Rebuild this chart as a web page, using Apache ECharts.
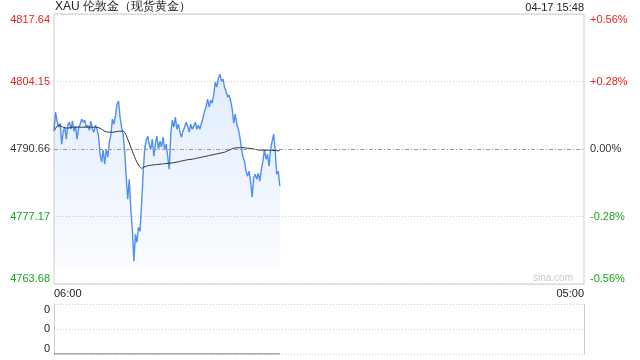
<!DOCTYPE html>
<html><head><meta charset="utf-8">
<script src="https://cdn.jsdelivr.net/npm/echarts@6/dist/echarts.min.js"></script>
<style>html,body{margin:0;padding:0;background:#fff}#c{width:640px;height:360px}</style>
</head><body><div id="c"></div>
<script>
const titleText = 'XAU 伦敦金（现货黄金）';
const stampText = '04-17 15:48';
const watermark = 'sina.com';
const prevClose = 4790.66;
const priceTicks = [4763.68, 4777.17, 4790.66, 4804.15, 4817.64];
const pctTicks = ['-0.56%', '-0.28%', '0.00%', '+0.28%', '+0.56%'];
const timeLabels = ['06:00', '05:00'];
const sessionMinutes = 1380;
const priceStepMin = 4;
const prices = [
4794.42,4798.02,4796.22,4795.02,4795.82,4791.62,4794.22,4795.02,4792.62,4795.42,
4796.02,4794.62,4796.22,4794.22,4795.22,4792.62,4794.82,4795.62,4796.62,4796.02,
4796.42,4795.02,4795.42,4794.42,4796.22,4794.62,4794.02,4795.42,4794.62,4793.22,
4789.62,4788.02,4790.42,4787.62,4790.62,4789.02,4792.02,4793.42,4796.62,4795.62,
4797.22,4799.62,4800.22,4797.02,4795.02,4793.62,4790.22,4785.02,4780.62,4784.62,
4778.62,4774.62,4768.22,4773.62,4772.02,4775.02,4774.22,4779.62,4785.62,4790.62,
4792.42,4793.22,4791.62,4790.62,4792.62,4789.22,4791.62,4793.22,4790.62,4792.22,
4791.02,4793.02,4790.62,4791.62,4789.22,4786.62,4793.62,4796.42,4795.02,4797.02,
4794.62,4795.62,4794.02,4793.02,4794.22,4795.02,4796.02,4795.22,4794.02,4795.62,
4794.62,4795.22,4796.02,4794.62,4795.42,4794.62,4795.82,4796.82,4798.22,4799.02,
4800.62,4799.02,4800.42,4799.82,4801.62,4804.02,4803.02,4804.82,4805.62,4804.22,
4804.62,4803.02,4802.22,4801.02,4801.42,4800.22,4798.62,4795.82,4797.62,4795.62,
4794.62,4793.02,4790.82,4789.02,4788.22,4786.22,4785.22,4786.22,4784.02,4781.02,
4785.02,4785.62,4784.62,4785.82,4784.22,4786.62,4788.22,4790.62,4788.62,4789.62,
4787.22,4790.62,4792.22,4793.62,4790.22,4785.62,4786.22,4783.22
];
const avgStepMin = 12;
const avgPrices = [
4794.22,4795.42,4795.02,4794.82,4795.02,4795.02,4795.02,4795.02,4795.02,4795.02,
4794.82,4794.22,4794.02,4794.02,4794.22,4794.22,4792.62,4790.22,4788.02,4786.82,
4787.22,4787.42,4787.52,4787.62,4787.72,4787.82,4787.92,4788.12,4788.32,4788.52,
4788.62,4788.82,4789.02,4789.22,4789.42,4789.62,4789.82,4790.02,4790.42,4790.82,
4790.92,4790.92,4790.82,4790.72,4790.52,4790.42,4790.42,4790.42,4790.32,4790.32
];
const volStepMin = 12;
const volumes = [
0,0,0,0,0,0,0,0,0,0, 0,0,0,0,0,0,0,0,0,0, 0,0,0,0,0,0,0,0,0,0,
0,0,0,0,0,0,0,0,0,0, 0,0,0,0,0,0,0,0,0,0
];
const volTicks = ['0', '0', '0'];

const BASE = priceTicks[0];
const STEP = priceTicks[1] - priceTicks[0];
const TOP = STEP * (priceTicks.length - 1);
const FONT = 'Arial, "Liberation Sans", "Noto Sans CJK SC", sans-serif';
const RED = '#f02020', GREEN = '#1aa51a', DARK = '#333';
const idxOf = v => Math.round(Number(v) / STEP);
const colorOf = v => { const i = idxOf(v); return i > 2 ? RED : (i < 2 ? GREEN : DARK); };

const priceData = prices.map((p, i) => [i * priceStepMin, +(p - BASE).toFixed(2)]);
const avgData = avgPrices.map((p, i) => [Math.min(i * avgStepMin, (prices.length - 1) * priceStepMin), +(p - BASE).toFixed(2)]);
const volData = volumes.map((v, i) => [Math.min(i * volStepMin, (prices.length - 1) * priceStepMin), v]);

const chart = echarts.init(document.getElementById('c'), null, {renderer: 'canvas'});
chart.setOption({
  animation: false,
  textStyle: {fontFamily: FONT},
  grid: [
    {left: 54, right: 56, top: 14, bottom: 76, show: true, borderColor: '#ccc', borderWidth: 1, backgroundColor: 'transparent'},
    {left: 54, right: 56, top: 304, height: 50, show: false}
  ],
  xAxis: [
    {type: 'value', gridIndex: 0, min: 0, max: sessionMinutes, interval: sessionMinutes,
     axisLine: {show: false}, axisTick: {show: false}, splitLine: {show: false},
     axisLabel: {show: true, margin: 4, fontSize: 11, color: '#222', fontFamily: FONT,
       alignMinLabel: 'left', alignMaxLabel: 'right',
       formatter: v => (Number(v) === 0 ? timeLabels[0] : timeLabels[1])}},
    {type: 'value', gridIndex: 1, min: 0, max: sessionMinutes, show: false}
  ],
  yAxis: [
    {type: 'value', gridIndex: 0, position: 'left', min: 0, max: TOP, interval: STEP,
     axisLine: {show: false}, axisTick: {show: false},
     splitLine: {show: true, lineStyle: {color: '#ccc', type: [1, 2], width: 1}},
     axisLabel: {margin: 4, fontSize: 11, fontFamily: FONT,
       verticalAlignMinLabel: 'bottom', verticalAlignMaxLabel: 'top',
       color: v => colorOf(v),
       formatter: v => priceTicks[idxOf(v)].toFixed(2)}},
    {type: 'value', gridIndex: 0, position: 'right', min: 0, max: TOP, interval: STEP,
     axisLine: {show: false}, axisTick: {show: false}, splitLine: {show: false},
     axisLabel: {margin: 6, fontSize: 11, fontFamily: FONT,
       verticalAlignMinLabel: 'bottom', verticalAlignMaxLabel: 'top',
       color: v => colorOf(v),
       formatter: v => pctTicks[idxOf(v)]}},
    {type: 'value', gridIndex: 1, position: 'left', min: 0, max: volTicks.length - 1, interval: 1,
     axisLine: {show: true, lineStyle: {color: '#ccc'}}, axisTick: {show: false},
     splitLine: {show: true, lineStyle: {color: '#ccc', type: [1, 2], width: 1}},
     axisLabel: {margin: 4, fontSize: 11, color: '#222', fontFamily: FONT,
       verticalAlignMinLabel: 'bottom', verticalAlignMaxLabel: 'top',
       formatter: (v) => volTicks[Math.round(Number(v))]}},
    {type: 'value', gridIndex: 1, position: 'right', min: 0, max: volTicks.length - 1, interval: 1,
     axisLine: {show: true, lineStyle: {color: '#ccc'}}, axisTick: {show: false},
     splitLine: {show: false}, axisLabel: {show: false}}
  ],
  series: [
    {type: 'line', xAxisIndex: 0, yAxisIndex: 0, data: priceData, showSymbol: false, symbol: 'none',
     lineStyle: {color: '#4f8ff0', width: 1.4},
     areaStyle: {origin: 3.6, color: new echarts.graphic.LinearGradient(0, 0, 0, 1, [
       {offset: 0, color: 'rgba(77,142,242,0.24)'}, {offset: 1, color: 'rgba(77,142,242,0.04)'}])},
     markLine: {silent: true, symbol: 'none', label: {show: false}, animation: false,
       lineStyle: {color: '#999', type: [4, 2, 1, 2], width: 1},
       data: [{yAxis: +(prevClose - BASE).toFixed(2)}]},
     z: 3},
    {type: 'line', xAxisIndex: 0, yAxisIndex: 0, data: avgData, showSymbol: false, symbol: 'none',
     smooth: 0.3, lineStyle: {color: '#333', width: 1}, z: 4},
    {type: 'line', xAxisIndex: 1, yAxisIndex: 2, data: volData, showSymbol: false, symbol: 'none',
     lineStyle: {color: '#555', width: 1}, z: 4}
  ],
  graphic: [
    {type: 'text', left: 55, top: 1, style: {text: titleText, fontSize: 12, fill: '#222', font: '12px ' + FONT}},
    {type: 'text', right: 56, top: 2, style: {text: stampText, fontSize: 11, fill: '#222', font: '11px ' + FONT}},
    {type: 'text', right: 67, top: 273, style: {text: watermark, fill: '#c8c8c8', font: '10px ' + FONT}}
  ]
});
</script></body></html>
